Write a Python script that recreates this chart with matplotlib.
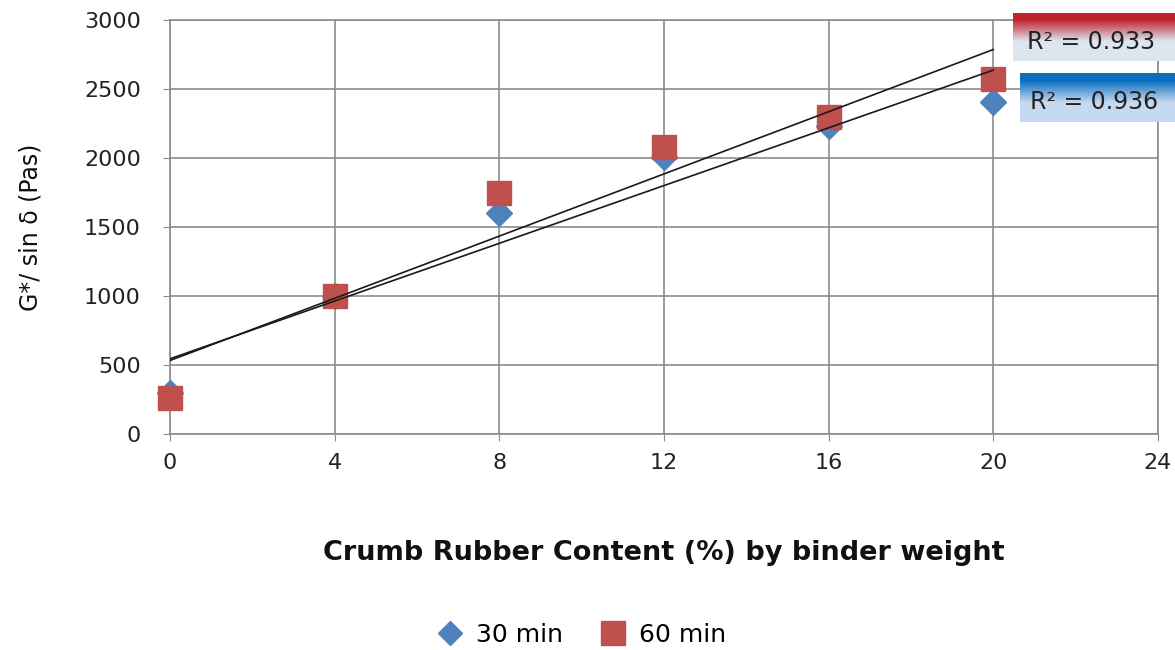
import numpy as np
import matplotlib.pyplot as plt
from matplotlib.colors import LinearSegmentedColormap

plt.rcParams['font.family'] = ['DejaVu Sans']

# data
rubber = [0, 4, 8, 12, 16, 20]
g_30min = [300, 1000, 1600, 2010, 2230, 2410]
g_60min = [260, 1000, 1750, 2080, 2300, 2570]
r2_labels = {'60 min': 'R² = 0.933', '30 min': 'R² = 0.936'}
x_ticks = [0, 4, 8, 12, 16, 20, 24]
y_ticks = [0, 500, 1000, 1500, 2000, 2500, 3000]

blue = '#4f81bd'
red = '#c0504d'
grid_col = '#8c8c8c'

fig = plt.figure(figsize=(11.75, 6.5), dpi=100)
ax = fig.add_axes([0.1447, 0.3323, 0.8408, 0.6367])

ax.plot(rubber, g_30min, 'D', color=blue, ms=13, label='30 min', zorder=3, clip_on=False)
ax.plot(rubber, g_60min, 's', color=red, ms=17.5, label='60 min', zorder=4, clip_on=False)

# linear trend lines, excel draws them over the markers
xs = np.array(rubber, dtype=float)
for ys in (g_60min, g_30min):
    k, b = np.polyfit(xs, ys, 1)
    ax.plot(xs, k * xs + b, color='#1a1a1a', lw=1.2, zorder=5)

ax.set_xlim(0, 24)
ax.set_ylim(0, 3000)
ax.set_xticks(x_ticks)
ax.set_yticks(y_ticks)
ax.grid(True, color=grid_col, lw=1.2)
ax.set_axisbelow(True)
for s in ax.spines.values():
    s.set_color(grid_col)
    s.set_linewidth(1.2)
ax.tick_params(axis='both', labelsize=16, colors=grid_col, labelcolor='#222222', length=5)
ax.tick_params(axis='x', pad=9)
ax.tick_params(axis='y', pad=16)

ax.set_xlabel('Crumb Rubber Content (%) by binder weight', fontsize=19.5, fontweight='bold',
              labelpad=48, color='#111111')
ax.set_ylabel('G*/ sin δ (Pas)', fontsize=17, labelpad=30, color='#111111')

fig.legend(loc='lower center', bbox_to_anchor=(0.49, -0.03), ncol=2, frameon=False,
           fontsize=18, handletextpad=0.05, columnspacing=1.0, markerscale=0.95)


# R² boxes with vertical gradient like the Excel labels
def gradient_box(rect, top_col, bottom_col, text):
    bx = fig.add_axes(rect)
    cmap = LinearSegmentedColormap.from_list('g', [(0, top_col), (0.15, top_col), (0.6, bottom_col),
                                                   (1, bottom_col)])
    grad = np.linspace(0, 1, 100).reshape(-1, 1)
    bx.imshow(grad, cmap=cmap, aspect='auto', extent=(0, 1, 0, 1), origin='upper')
    bx.text(0.46, 0.40, text, ha='center', va='center', fontsize=17, color='#222222')
    bx.set_axis_off()


gradient_box([1013 / 1175, 1 - 61 / 650, 170 / 1175, 48 / 650], '#c0232b', '#dde6f0', r2_labels['60 min'])
gradient_box([1020 / 1175, 1 - 122 / 650, 160 / 1175, 49 / 650], '#0a6ec0', '#c6d9f0', r2_labels['30 min'])

fig.savefig('out.png', dpi=100)
